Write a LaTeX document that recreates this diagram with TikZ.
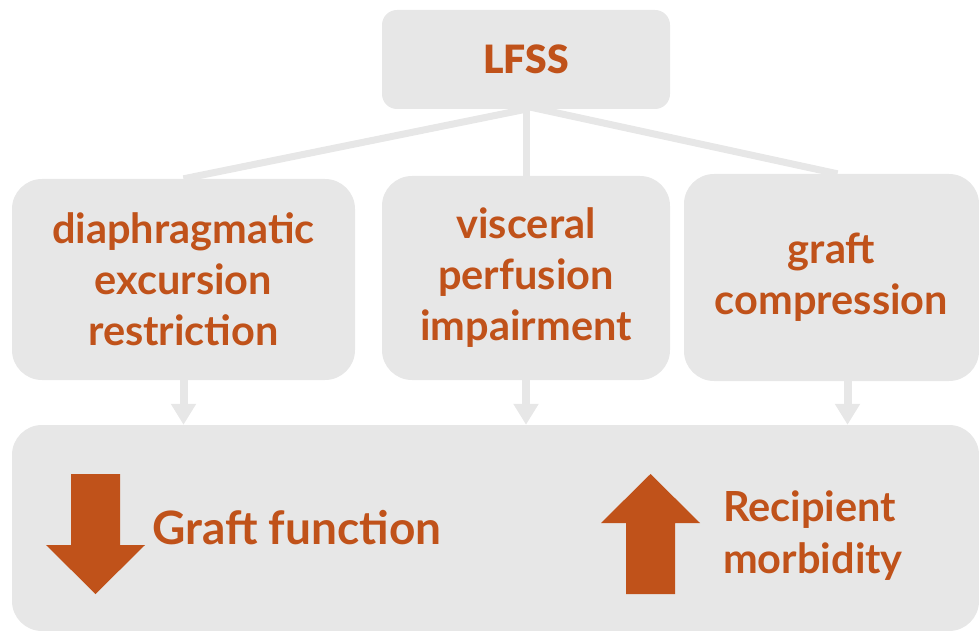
\documentclass[tikz,border=0pt]{standalone}
\usepackage{fontspec}
\setmainfont{Lato}
\newfontfamily\heavyfont{Lato Black}
\usetikzlibrary{arrows.meta,positioning}
\definecolor{boxgray}{HTML}{E7E7E7}
\definecolor{rust}{HTML}{C0521A}

\begin{document}
\begin{tikzpicture}[x=1pt,y=-1pt,
    box/.style={fill=boxgray,rounded corners=30pt,inner sep=0pt,align=center,
      text=rust,font=\fontsize{41.5}{51}\selectfont\bfseries},
    link/.style={draw=boxgray,line width=7pt},
    feed/.style={draw=boxgray,line width=8pt,-{Triangle[width=24pt,length=21pt]}},
    bigarrow/.style={fill=rust}]
  \useasboundingbox (0,0) rectangle (979,631);

  \node[box,rounded corners=15pt,minimum width=288pt,minimum height=99pt,
        font=\fontsize{39}{40}\selectfont\heavyfont] (lfss) at (526,59.5) {LFSS};
  \node[box,minimum width=343pt,minimum height=201pt] (diaph) at (183.5,279.5)
        {diaphragmatic\\excursion\\restriction};
  \node[box,minimum width=288pt,minimum height=204pt] (visc) at (526,278)
        {visceral\\perfusion\\impairment};
  \node[box,minimum width=295pt,minimum height=207pt] (graft) at (831.5,277.5)
        {graft\\compression};
  \node[box,minimum width=967pt,minimum height=206pt] (outcome) at (495.5,528) {};

  % LFSS to the three causes
  \draw[link] (lfss.south) -- (diaph.north);
  \draw[link] (lfss.south) -- (visc.north);
  \draw[link] ([yshift=3pt]lfss.south) -- ([xshift=6pt]graft.north);

  % causes to the outcome box
  \draw[feed] (diaph.south) -- (diaph.south |- outcome.north);
  \draw[feed] (visc.south) -- (visc.south |- outcome.north);
  \draw[feed] ([xshift=16pt]graft.south) -- ([xshift=16pt]graft.south |- outcome.north);

  % down and up arrows
  \fill[bigarrow] (71,474) -- (120,474) -- (120,545) -- (145,545) -- (95.5,594)
    -- (46,545) -- (71,545) -- cycle;
  \fill[bigarrow] (626,594) -- (675,594) -- (675,523) -- (700,523) -- (650.5,474)
    -- (601,523) -- (626,523) -- cycle;

  \node[anchor=west,inner sep=0pt,text=rust,font=\fontsize{46}{51}\selectfont\bfseries]
    (func) at (152,528) {Graft function};
  \node[anchor=west,inner sep=0pt,text=rust,align=left,font=\fontsize{41.5}{52}\selectfont\bfseries]
    (morb) at (723,536) {Recipient\\morbidity};
\end{tikzpicture}
\end{document}
